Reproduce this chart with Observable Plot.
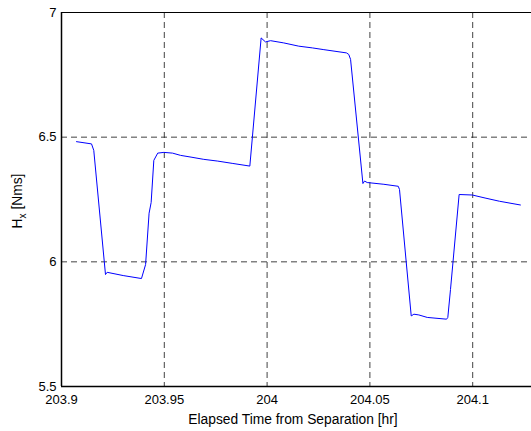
<!DOCTYPE html>
<html>
<head>
<meta charset="utf-8">
<script src="https://cdn.jsdelivr.net/npm/d3@7"></script>
<script src="https://cdn.jsdelivr.net/npm/@observablehq/plot@0.6"></script>
<style>
  html, body { margin: 0; padding: 0; background: #fff; }
  #chart svg { display: block; }
</style>
</head>
<body>
<div id="chart"></div>
<script>
// Elapsed time from separation [hr]
const timeHr = [
  203.9073, 203.9146, 203.9157, 203.9214, 203.9222, 203.9300, 203.9389, 203.9409,
  203.9426, 203.9436, 203.9449, 203.9468, 203.9498, 203.9540, 203.9579, 203.9630,
  203.9692, 203.9760, 203.9830, 203.9916, 203.9971, 203.9992, 204.0017, 204.0081,
  204.0154, 204.0220, 204.0276, 204.0386, 204.0397, 204.0406, 204.0466, 204.0474,
  204.0487, 204.0568, 204.0638, 204.0644, 204.0701, 204.0714, 204.0738, 204.0779,
  204.0873, 204.0879, 204.0892, 204.0934, 204.0998, 204.1060, 204.1130, 204.1232
];
// Hx [Nms]
const hxNms = [
  6.482, 6.473, 6.447, 5.949, 5.958, 5.945, 5.933, 5.989,
  6.195, 6.238, 6.407, 6.436, 6.439, 6.436, 6.427, 6.420,
  6.411, 6.404, 6.395, 6.384, 6.898, 6.882, 6.887, 6.878,
  6.865, 6.858, 6.851, 6.838, 6.832, 6.812, 6.314, 6.324,
  6.318, 6.311, 6.303, 6.290, 5.783, 5.790, 5.787, 5.777,
  5.770, 5.777, 5.889, 6.270, 6.268, 6.256, 6.243, 6.228
];
const xTicks = [203.9, 203.95, 204, 204.05, 204.1];
const xTickLabels = ["203.9", "203.95", "204", "204.05", "204.1"];
const yTicks = [5.5, 6, 6.5, 7];
const yTickLabels = ["5.5", "6", "6.5", "7"];
const xLabel = "Elapsed Time from Separation [hr]";
const yLabelMain = "H";
const yLabelSub = "x";
const yLabelUnit = " [Nms]";

const data = timeHr.map((t, i) => ({t, h: hxNms[i]}));
const xGrid = xTicks.slice(1);
const yGrid = [6, 6.5];

const plot = Plot.plot({
  width: 531,
  height: 431,
  marginLeft: 61,
  marginRight: 0,
  marginTop: 12,
  marginBottom: 45,
  style: {fontFamily: "'Liberation Sans', Arial, sans-serif", fontSize: "13px", color: "#000", background: "#fff"},
  x: {domain: [203.9, 204.1286], label: null},
  y: {domain: [5.5, 7], label: null},
  marks: [
    Plot.ruleX(xGrid, {stroke: "#222", strokeOpacity: 0.85, strokeDasharray: "6,4"}),
    Plot.ruleY(yGrid, {stroke: "#222", strokeOpacity: 0.85, strokeDasharray: "6,4"}),
    Plot.ruleY([7], {stroke: "#000", strokeWidth: 1}),
    Plot.ruleY([5.5], {stroke: "#000", strokeWidth: 1.5}),
    Plot.ruleX([203.9], {stroke: "#000", strokeWidth: 1.5}),
    Plot.line(data, {x: "t", y: "h", stroke: "#0000ff", strokeWidth: 1}),
    Plot.axisX({ticks: xTicks, tickFormat: d => xTickLabels[xTicks.indexOf(d)], tickSize: 0, tickPadding: 8, fontSize: 13, label: null}),
    Plot.axisY({ticks: yTicks, tickFormat: d => yTickLabels[yTicks.indexOf(d)], tickSize: 0, tickPadding: 5, fontSize: 13, label: null})
  ]
});

const svg = d3.select(plot);
svg.append("text")
  .attr("x", 293)
  .attr("y", 424)
  .attr("text-anchor", "middle")
  .attr("font-size", 13.8)
  .attr("fill", "#000")
  .text(xLabel);

const yl = svg.append("text")
  .attr("transform", "translate(22,201) rotate(-90)")
  .attr("text-anchor", "middle")
  .attr("font-size", 13.8)
  .attr("fill", "#000");
yl.append("tspan").text(yLabelMain);
yl.append("tspan").attr("font-size", 10).attr("dy", 4).text(yLabelSub);
yl.append("tspan").attr("dy", -4).text(yLabelUnit);

document.getElementById("chart").appendChild(plot);
</script>
</body>
</html>
